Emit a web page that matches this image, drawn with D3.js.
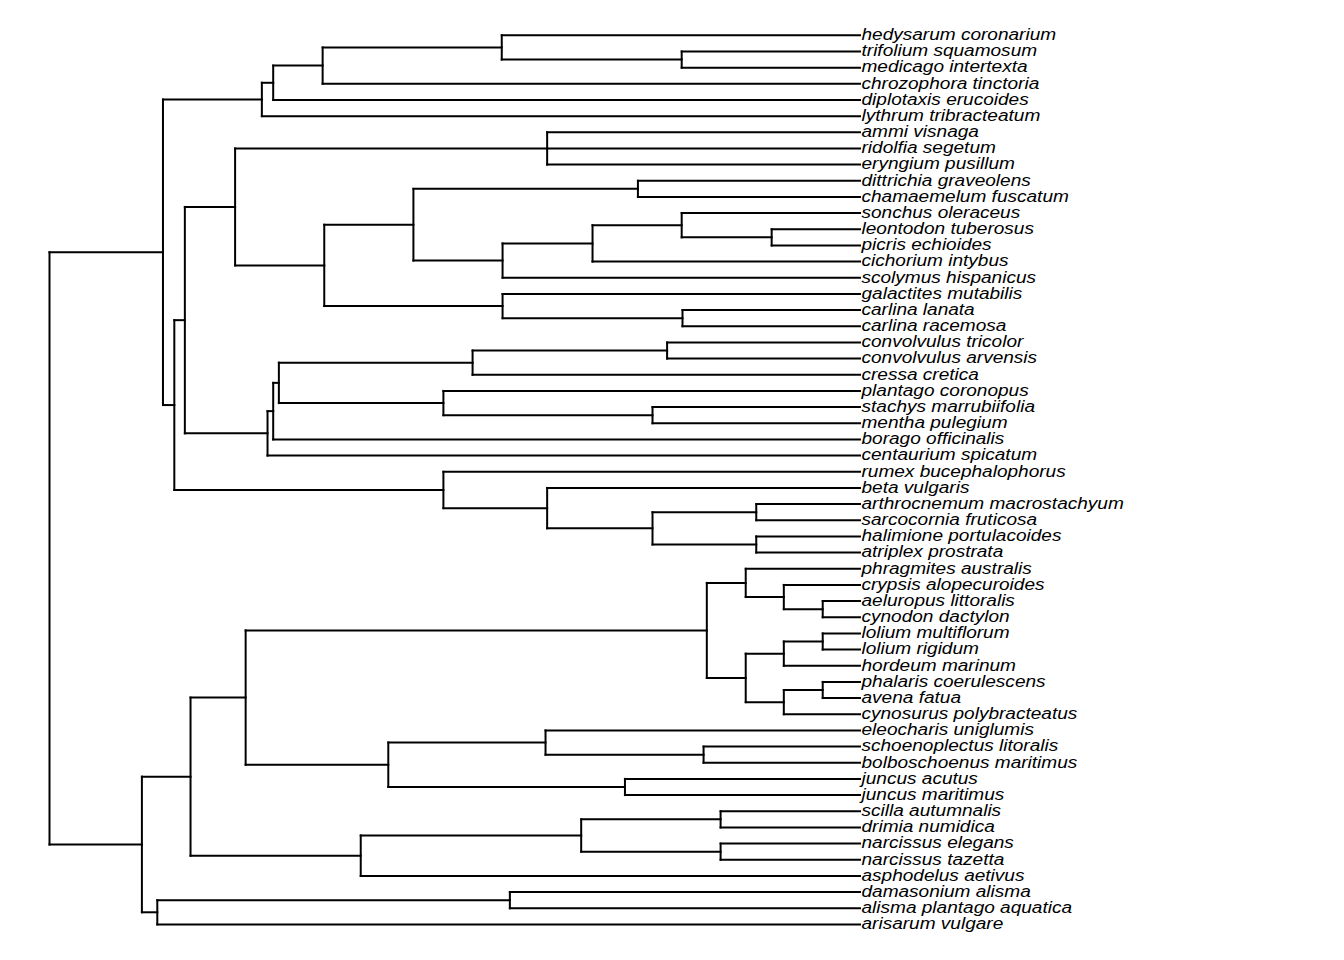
<!DOCTYPE html>
<html>
<head>
<meta charset="utf-8">
<script src="https://cdn.jsdelivr.net/npm/d3@7"></script>
<style>
  body { margin: 0; background: #fff; }
  svg { display: block; }
</style>
</head>
<body>
<div id="tree"></div>
<script>
// Tip labels, top to bottom, and the internal node each one hangs from
const tipNames = [
  "hedysarum coronarium", "trifolium squamosum", "medicago intertexta",
  "chrozophora tinctoria", "diplotaxis erucoides", "lythrum tribracteatum",
  "ammi visnaga", "ridolfia segetum", "eryngium pusillum",
  "dittrichia graveolens", "chamaemelum fuscatum", "sonchus oleraceus",
  "leontodon tuberosus", "picris echioides", "cichorium intybus",
  "scolymus hispanicus", "galactites mutabilis", "carlina lanata",
  "carlina racemosa", "convolvulus tricolor", "convolvulus arvensis",
  "cressa cretica", "plantago coronopus", "stachys marrubiifolia",
  "mentha pulegium", "borago officinalis", "centaurium spicatum",
  "rumex bucephalophorus", "beta vulgaris", "arthrocnemum macrostachyum",
  "sarcocornia fruticosa", "halimione portulacoides", "atriplex prostrata",
  "phragmites australis", "crypsis alopecuroides", "aeluropus littoralis",
  "cynodon dactylon", "lolium multiflorum", "lolium rigidum",
  "hordeum marinum", "phalaris coerulescens", "avena fatua",
  "cynosurus polybracteatus", "eleocharis uniglumis", "schoenoplectus litoralis",
  "bolboschoenus maritimus", "juncus acutus", "juncus maritimus",
  "scilla autumnalis", "drimia numidica", "narcissus elegans",
  "narcissus tazetta", "asphodelus aetivus", "damasonium alisma",
  "alisma plantago aquatica", "arisarum vulgare"
];
const tipParents = [
  "nA1c", "nA1d", "nA1d", "nA1b", "nA1a", "nA1",
  "nApi", "nApi", "nApi", "nAs2", "nAs2", "nAs6",
  "nAs7", "nAs7", "nAs4", "nAs3", "nAs5", "nAs8",
  "nAs8", "nLe", "nLe", "nLd", "nLf", "nLg",
  "nLg", "nLb", "nLa", "nAm", "nAm1", "nAm3",
  "nAm3", "nAm4", "nAm4", "nP1", "nP2", "nP2a",
  "nP2a", "nP4a", "nP4a", "nP4", "nP5a", "nP5a",
  "nP5", "nB4", "nB5", "nB5", "nB6", "nB6",
  "nB8a", "nB8a", "nB8b", "nB8b", "nB7", "nB10",
  "nB10", "nB9"
];

// Internal nodes: id, parent, age (root = 100, tips = 0)
const nodeIds = [
  "n0", "nA", "nA1", "nA1a", "nA1b", "nA1c", "nA1d",
  "nA2", "nA3", "nAp", "nApi", "nAst", "nAs1", "nAs2", "nAs3", "nAs4",
  "nAs6", "nAs7", "nAs5", "nAs8",
  "nLa", "nLb", "nLc", "nLd", "nLe", "nLf", "nLg",
  "nAm", "nAm1", "nAm2", "nAm3", "nAm4",
  "nB", "nB1", "nB2", "nP", "nP1", "nP2", "nP2a", "nP3", "nP4", "nP4a",
  "nP5", "nP5a", "nB3", "nB4", "nB5", "nB6", "nB7", "nB8", "nB8a", "nB8b",
  "nB9", "nB10"
];
const nodeParents = [
  null, "n0", "nA", "nA1", "nA1a", "nA1b", "nA1c",
  "nA", "nA2", "nA3", "nAp", "nAp", "nAst", "nAs1", "nAs1", "nAs3",
  "nAs4", "nAs6", "nAst", "nAs5",
  "nA3", "nLa", "nLb", "nLc", "nLd", "nLc", "nLf",
  "nA2", "nAm", "nAm1", "nAm2", "nAm2",
  "n0", "nB", "nB1", "nB2", "nP", "nP1", "nP2", "nP", "nP3", "nP4",
  "nP3", "nP5", "nB2", "nB3", "nB4", "nB3", "nB1", "nB7", "nB8", "nB8",
  "nB", "nB9"
];
const nodeAges = [
  100, 86.0, 73.8, 72.4, 66.3, 44.2, 22.0,
  84.6, 83.3, 77.1, 38.6, 66.1, 55.1, 27.4, 44.1, 33.0,
  22.0, 10.9, 44.1, 21.9,
  73.1, 72.4, 71.7, 47.8, 23.8, 51.4, 25.6,
  51.4, 38.6, 25.6, 12.8, 12.8,
  88.6, 82.6, 75.8, 18.9, 14.1, 9.4, 4.6, 14.1, 9.4, 4.6,
  9.4, 4.6, 58.2, 38.8, 19.3, 29.0, 61.6, 34.4, 17.2, 17.2,
  86.7, 43.2
];

const width = 1344;
const height = 960;

const svg = d3.select("#tree")
  .append("svg")
  .attr("width", width)
  .attr("height", height)
  .style("background", "#fff");

// Build the table stratify needs: internal nodes first, then tips
const rows = nodeIds.map((id, i) => ({ id, parent: nodeParents[i], age: nodeAges[i], tip: -1 }))
  .concat(tipNames.map((name, i) => ({ id: name, parent: tipParents[i], age: 0, tip: i })));

const root = d3.stratify()
  .id(d => d.id)
  .parentId(d => d.parent)(rows);

const x = d3.scaleLinear().domain([100, 0]).range([49.5, 860]);
const y = d3.scaleLinear().domain([0, tipNames.length - 1]).range([35.3, 924.4]);

// tips get their row, internal nodes sit at the mean of their children
root.eachAfter(n => {
  n.px = x(n.data.age);
  n.py = n.children ? d3.mean(n.children, c => c.py) : y(n.data.tip);
});

const g = svg.append("g")
  .attr("fill", "none")
  .attr("stroke", "#000")
  .attr("stroke-width", 2)
  .attr("stroke-linecap", "square");

// horizontal branches
g.selectAll("line.h")
  .data(root.descendants().filter(n => n.parent))
  .join("line")
  .attr("class", "h")
  .attr("x1", d => d.parent.px)
  .attr("x2", d => d.px)
  .attr("y1", d => d.py)
  .attr("y2", d => d.py);

// vertical connectors
g.selectAll("line.v")
  .data(root.descendants().filter(n => n.children))
  .join("line")
  .attr("class", "v")
  .attr("x1", d => d.px)
  .attr("x2", d => d.px)
  .attr("y1", d => d3.min(d.children, c => c.py))
  .attr("y2", d => d3.max(d.children, c => c.py));

// tip labels (the original font is drawn wider than it is tall)
svg.append("g")
  .selectAll("text")
  .data(root.leaves())
  .join("text")
  .attr("transform", d => `translate(${d.px + 1.5},${d.py}) scale(1.19,1)`)
  .attr("dy", "0.3em")
  .style("font-family", "'Liberation Sans', Arial, sans-serif")
  .style("font-style", "italic")
  .style("font-size", "16px")
  .attr("fill", "#000")
  .text(d => d.id);
</script>
</body>
</html>
